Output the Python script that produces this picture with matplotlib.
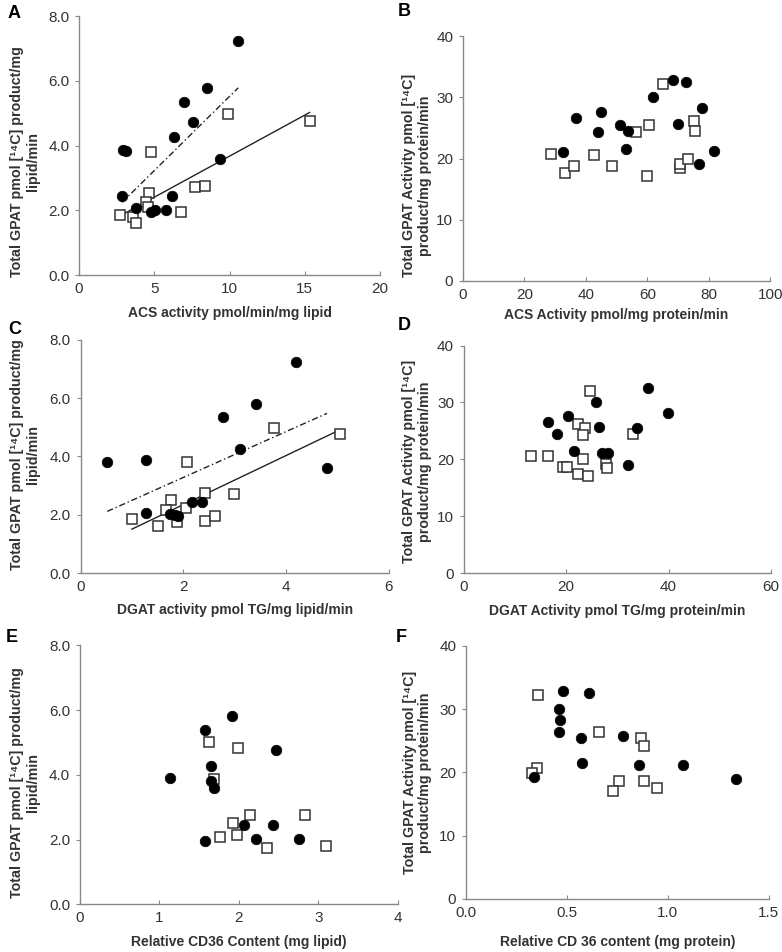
import numpy as np
import matplotlib
matplotlib.use('Agg')
import matplotlib.pyplot as plt
from matplotlib.ticker import FormatStrFormatter

plt.rcParams['font.family'] = ['Liberation Sans', 'DejaVu Sans']

# Panel A: ACS activity (per mg lipid) vs GPAT (per mg lipid)
a_circ_x = [10.58, 8.51, 6.98, 7.58, 6.32, 2.95, 3.15, 9.36, 2.86, 6.16, 3.81, 4.81, 5.03, 5.81]
a_circ_y = [7.24, 5.79, 5.36, 4.74, 4.28, 3.87, 3.82, 3.60, 2.43, 2.43, 2.06, 1.94, 2.02, 2.00]
a_sq_x = [9.93, 15.32, 4.79, 7.74, 8.34, 4.68, 4.43, 4.59, 6.81, 2.71, 3.59, 3.77]
a_sq_y = [4.98, 4.77, 3.81, 2.71, 2.74, 2.53, 2.25, 2.12, 1.94, 1.86, 1.79, 1.62]

# Panel B: ACS activity (per mg protein) vs GPAT (per mg protein)
b_circ_x = [68.5, 72.6, 61.7, 77.8, 36.7, 44.8, 44.1, 51.2, 53.7, 70.0, 52.9, 32.6, 81.6, 76.8]
b_circ_y = [32.8, 32.5, 30.1, 28.2, 26.6, 27.6, 24.4, 25.5, 24.5, 25.7, 21.6, 21.1, 21.3, 19.1]
b_sq_x = [65.0, 75.2, 75.4, 56.3, 60.4, 28.7, 42.5, 33.3, 36.0, 48.5, 60.0, 70.6, 70.6, 73.2]
b_sq_y = [32.1, 26.2, 24.5, 24.3, 25.4, 20.7, 20.6, 17.6, 18.7, 18.7, 17.2, 18.5, 19.1, 19.9]

# Panel C: DGAT activity (per mg lipid) vs GPAT (per mg lipid)
c_circ_x = [4.19, 3.42, 2.77, 3.10, 0.52, 1.27, 4.80, 2.18, 2.37, 1.28, 1.83, 1.90, 1.75]
c_circ_y = [7.23, 5.80, 5.37, 4.26, 3.82, 3.88, 3.61, 2.45, 2.43, 2.05, 2.00, 1.95, 2.02]
c_sq_x = [3.76, 5.06, 2.07, 2.42, 2.99, 1.77, 1.67, 2.06, 1.00, 1.51, 1.87, 2.43, 2.61]
c_sq_y = [4.97, 4.77, 3.82, 2.75, 2.72, 2.52, 2.15, 2.23, 1.86, 1.63, 1.75, 1.80, 1.95]

# Panel D: DGAT activity (per mg protein) vs GPAT (per mg protein)
d_circ_x = [35.9, 25.8, 39.8, 20.3, 16.5, 18.3, 26.5, 33.8, 21.6, 26.9, 28.2, 32.1]
d_circ_y = [32.5, 30.1, 28.2, 27.6, 26.5, 24.4, 25.7, 25.5, 21.5, 21.1, 21.2, 19.0]
d_sq_x = [24.6, 22.4, 23.6, 23.2, 33.0, 13.1, 16.5, 23.2, 19.3, 20.1, 22.4, 24.2, 27.7, 28.0]
d_sq_y = [32.1, 26.2, 25.5, 24.3, 24.5, 20.6, 20.6, 20.0, 18.7, 18.7, 17.5, 17.1, 19.1, 18.5]

# Panel E: CD36 content (mg lipid) vs GPAT (per mg lipid)
e_circ_x = [1.91, 1.58, 2.46, 1.65, 1.14, 1.65, 1.69, 2.07, 2.43, 1.57, 2.21, 2.75]
e_circ_y = [5.82, 5.39, 4.77, 4.28, 3.89, 3.82, 3.61, 2.45, 2.44, 1.96, 2.01, 2.01]
e_sq_x = [1.62, 1.99, 1.69, 2.14, 2.83, 1.93, 1.76, 1.98, 2.35, 3.10]
e_sq_y = [5.01, 4.82, 3.86, 2.76, 2.75, 2.52, 2.07, 2.15, 1.75, 1.80]

# Panel F: CD36 content (mg protein) vs GPAT (per mg protein)
f_circ_x = [0.478, 0.611, 0.462, 0.465, 0.462, 0.569, 0.778, 0.574, 0.857, 1.075, 1.338, 0.338]
f_circ_y = [32.8, 32.5, 30.0, 28.2, 26.4, 25.4, 25.7, 21.5, 21.1, 21.2, 19.0, 19.2]
f_sq_x = [0.356, 0.659, 0.869, 0.882, 0.354, 0.328, 0.760, 0.727, 0.882, 0.948]
f_sq_y = [32.2, 26.3, 25.4, 24.2, 20.7, 19.9, 18.7, 17.1, 18.6, 17.5]

ylab_lipid = 'Total GPAT pmol [\u00b9\u2074C] product/mg\nlipid/min'
ylab_prot = 'Total GPAT Activity pmol [\u00b9\u2074C]\nproduct/mg protein/min'

DASHDOT = (0, (4.5, 2, 1, 2))

fig = plt.figure(figsize=(7.82, 9.52), dpi=100)


def make_panel(rect, letter, letter_xy, cx, cy, sx, sy, xlim, xticks, ylim, yticks,
               xlabel, ylabel, ylab_pos, xlab_off, yfmt, xfmt=None, fits=False):
    ax = fig.add_axes(rect)
    if fits:
        # trendlines: solid for squares, dash-dot for circles
        p = np.polyfit(sx, sy, 1)
        xx = np.array([min(sx), max(sx)])
        ax.plot(xx, np.polyval(p, xx), color='#222222', lw=1.0, zorder=1)
        p = np.polyfit(cx, cy, 1)
        xx = np.array([min(cx), max(cx)])
        ax.plot(xx, np.polyval(p, xx), color='#222222', lw=1.0, ls=DASHDOT, zorder=1)
    ax.plot(cx, cy, 'o', ms=7.6, mfc='black', mec='black', mew=0.5, ls='none', zorder=3)
    ax.plot(sx, sy, 's', ms=6.6, mfc='white', mec='#333333', mew=1.1, ls='none', zorder=2)
    ax.set_xlim(xlim)
    ax.set_ylim(ylim)
    ax.set_xticks(xticks)
    ax.set_yticks(yticks)
    ax.yaxis.set_major_formatter(FormatStrFormatter(yfmt))
    if xfmt:
        ax.xaxis.set_major_formatter(FormatStrFormatter(xfmt))
    for s in ['top', 'right']:
        ax.spines[s].set_visible(False)
    for s in ['left', 'bottom']:
        ax.spines[s].set_color('#888888')
        ax.spines[s].set_linewidth(1.0)
    ax.tick_params(axis='x', direction='in', length=3, color='#888888',
                   labelsize=11, labelcolor='#333333', pad=5)
    ax.tick_params(axis='y', direction='out', length=3, color='#888888',
                   labelsize=11, labelcolor='#333333', pad=4)
    ax.set_xlabel(xlabel, fontsize=10, fontweight='bold', color='#333333')
    ax.xaxis.set_label_coords(0.5, xlab_off)
    ax.xaxis.label.set_verticalalignment('center')
    ax.set_ylabel(ylabel, fontsize=10.3, fontweight='bold', color='#333333',
                  linespacing=1.15)
    ax.yaxis.set_label_coords(*ylab_pos)
    ax.yaxis.label.set_verticalalignment('center')
    fig.text(letter_xy[0] / 782, 1 - letter_xy[1] / 952, letter, fontsize=13,
             fontweight='bold', ha='left', va='center')
    return ax


make_panel([0.101, 0.711, 0.385, 0.272], 'A', (8, 14), a_circ_x, a_circ_y, a_sq_x, a_sq_y,
           (0, 20), [0, 5, 10, 15, 20], (0, 8), [0, 2, 4, 6, 8],
           'ACS activity pmol/min/mg lipid', ylab_lipid, (-0.18, 0.44), -0.147,
           '%.1f', fits=True)
make_panel([0.592, 0.705, 0.393, 0.257], 'B', (398, 12), b_circ_x, b_circ_y, b_sq_x, b_sq_y,
           (0, 100), [0, 20, 40, 60, 80, 100], (0, 40), [0, 10, 20, 30, 40],
           'ACS Activity pmol/mg protein/min', ylab_prot, (-0.15, 0.43), -0.14,
           '%d')
make_panel([0.103, 0.398, 0.394, 0.245], 'C', (8, 330), c_circ_x, c_circ_y, c_sq_x, c_sq_y,
           (0, 6), [0, 2, 4, 6], (0, 8), [0, 2, 4, 6, 8],
           'DGAT activity pmol TG/mg lipid/min', ylab_lipid, (-0.18, 0.51), -0.16,
           '%.1f', fits=True)
make_panel([0.593, 0.398, 0.393, 0.239], 'D', (398, 326), d_circ_x, d_circ_y, d_sq_x, d_sq_y,
           (0, 60), [0, 20, 40, 60], (0, 40), [0, 10, 20, 30, 40],
           'DGAT Activity pmol TG/mg protein/min', ylab_prot, (-0.152, 0.49), -0.165,
           '%d')
make_panel([0.102, 0.050, 0.407, 0.272], 'E', (6, 637), e_circ_x, e_circ_y, e_sq_x, e_sq_y,
           (0, 4), [0, 1, 2, 3, 4], (0, 8), [0, 2, 4, 6, 8],
           'Relative CD36 Content (mg lipid)', ylab_lipid, (-0.173, 0.47), -0.147,
           '%.1f')
make_panel([0.596, 0.0557, 0.387, 0.266], 'F', (396, 637), f_circ_x, f_circ_y, f_sq_x, f_sq_y,
           (0, 1.5), [0, 0.5, 1.0, 1.5], (0, 40), [0, 10, 20, 30, 40],
           'Relative CD 36 content (mg protein)', ylab_prot, (-0.16, 0.50), -0.17,
           '%d', xfmt='%.1f')

fig.savefig('out.png', dpi=100)
